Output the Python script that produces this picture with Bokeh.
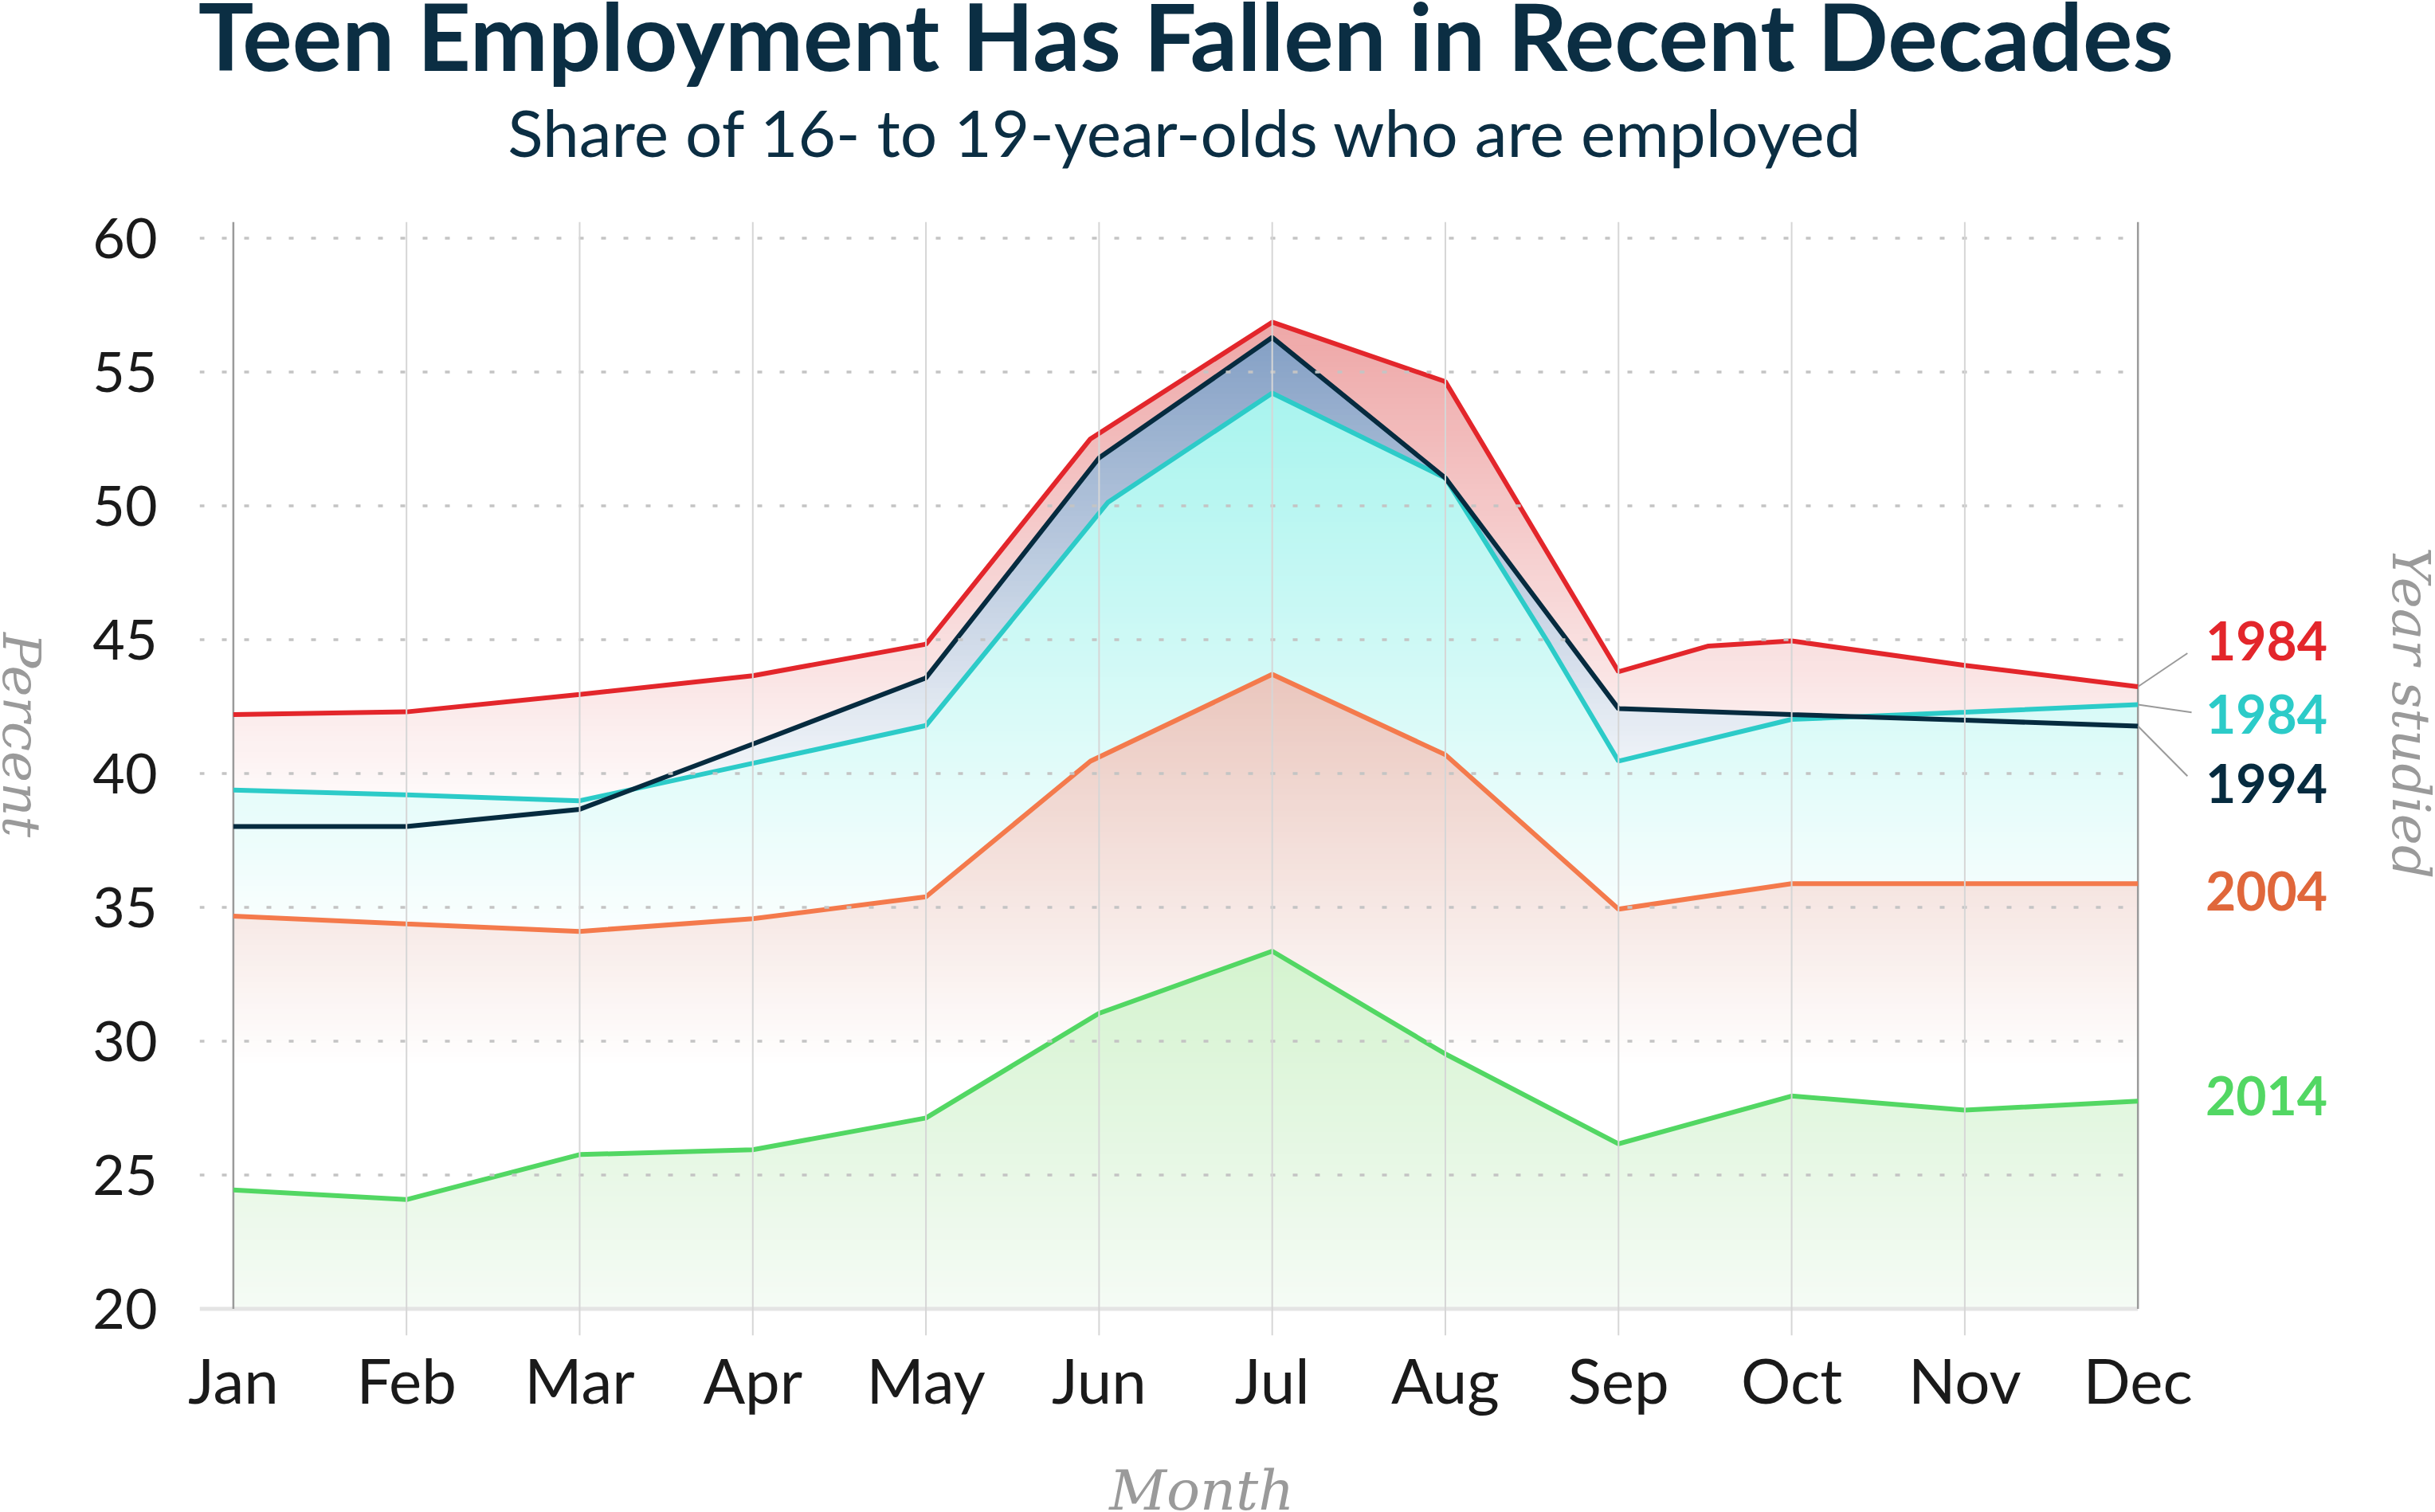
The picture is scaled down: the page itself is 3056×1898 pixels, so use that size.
import numpy as np
from bokeh.plotting import figure
from bokeh.layouts import row, column
from bokeh.models import Range1d, FixedTicker, Label, ColumnDataSource
from bokeh.embed import file_html
from bokeh.resources import INLINE

# ---------------- data ----------------
months = ["Jan", "Feb", "Mar", "Apr", "May", "Jun", "Jul", "Aug", "Sep", "Oct", "Nov", "Dec"]
y_ticks = [20, 25, 30, 35, 40, 45, 50, 55, 60]

# month position (0 = Jan) and share employed (%)
x_1984_red = [0, 1, 2, 3, 4, 4.95, 6, 7, 8, 8.52, 9, 10, 11]
y_1984_red = [42.2, 42.3, 42.95, 43.65, 44.83, 52.5, 56.86, 54.64, 43.8, 44.76, 44.95, 44.04, 43.24]

x_1994 = [0, 1, 2, 3, 4, 5, 6, 7, 8, 9, 10, 11]
y_1994 = [38.02, 38.02, 38.66, 41.1, 43.57, 51.79, 56.29, 51.04, 42.42, 42.2, 41.99, 41.77]

x_1984_cyan = [0, 1, 2, 3, 4, 5.05, 6, 7, 7.6, 8, 9, 10, 11]
y_1984_cyan = [39.38, 39.2, 38.98, 40.38, 41.79, 50.12, 54.21, 51.04, 44.82, 40.46, 42.02, 42.29, 42.57]

x_2004 = [0, 1, 2, 3, 4, 4.95, 6, 7, 8, 9, 10, 11]
y_2004 = [34.67, 34.38, 34.1, 34.57, 35.39, 40.46, 43.7, 40.7, 34.93, 35.88, 35.88, 35.88]

x_2014 = [0, 1, 2, 3, 4, 5, 6, 7, 8, 9, 10, 11]
y_2014 = [24.44, 24.08, 25.76, 25.94, 27.13, 31.04, 33.36, 29.52, 26.16, 27.95, 27.42, 27.76]

label_txt = ["1984", "1984", "1994", "2004", "2014"]

# ---------------- styles ----------------
C_RED, C_NAVY, C_CYAN, C_ORANGE, C_GREEN = "#e3262b", "#062b3f", "#2ccbc8", "#f47a4c", "#52d763"
LABEL_COLORS = ["#e3262b", "#2ccbc8", "#062b3f", "#e0673b", "#52d763"]
TITLE_COLOR = "#0b2e43"
GRAY_TXT = "#9a9a9a"
LW = 6

TOTAL_W, TOTAL_H = 3056, 1896
W_SIDE = 100                   # narrow strip on the left for the y title
H_BOTTOM = 106                 # strip at the bottom for the x title
W_MAIN = TOTAL_W - W_SIDE
H_MAIN = TOTAL_H - H_BOTTOM

X0, X1 = -0.195, 11.0          # plotted area (Jan..Dec with a little lead-in)
Y0, Y1 = 19.0, 60.6
BASE = 20.0
XR = (X0, 12.718)              # frame extends right to hold the labels
YR = (Y0, 68.881)              # frame extends up to hold the titles

p = figure(width=W_MAIN, height=H_MAIN, output_backend="svg", toolbar_location=None, title=None,
           x_range=Range1d(*XR), y_range=Range1d(*YR),
           min_border_left=250 - W_SIDE, min_border_right=0, min_border_top=0,
           min_border_bottom=H_MAIN - 1676)
p.outline_line_color = None
p.background_fill_color = "white"
p.border_fill_color = "white"
p.xgrid.visible = False
p.ygrid.visible = False


def hex2rgb(h):
    h = h.lstrip("#")
    return np.array([int(h[i:i + 2], 16) for i in (0, 2, 4)], float)


def rgb2hex(c):
    c = np.clip(np.round(c), 0, 255).astype(int)
    return "#%02x%02x%02x" % tuple(c)


def gradient_area(xs, ys, top_col, bot_col, y_bot, step=0.2, eps=0.06):
    """Emulate a vertical linear gradient fill under a polyline using horizontal bands."""
    xs = np.asarray(xs, float)
    ys = np.asarray(ys, float)
    ymax = ys.max()
    y_top = ymax
    lv = [BASE]
    if y_bot > BASE:
        lv.append(y_bot)
    k = lv[-1]
    while k + step < ymax:
        k += step
        lv.append(k)
    lv.append(ymax + 0.05)
    cut_levels = lv + [l - eps for l in lv[1:]]
    dense = list(xs)
    for i in range(len(xs) - 1):
        xa, xb, ya, yb = xs[i], xs[i + 1], ys[i], ys[i + 1]
        for L in cut_levels:
            if (ya - L) * (yb - L) < 0:
                dense.append(xa + (L - ya) / (yb - ya) * (xb - xa))
    xd = np.unique(np.array(dense))
    fd = np.interp(xd, xs, ys)
    tc, bc = hex2rgb(top_col), hex2rgb(bot_col)
    pxs, pys, cols = [], [], []
    for i in range(len(lv) - 2, -1, -1):
        lo, hi = lv[i], lv[i + 1]
        lo_e = lo - eps if i > 0 else lo
        if fd.max() <= lo_e:
            continue
        top = np.clip(fd, lo_e, hi)
        pxs.append(np.concatenate([xd, xd[::-1]]).tolist())
        pys.append(np.concatenate([top, np.full(len(xd), lo_e)]).tolist())
        if i == 0 and y_bot > BASE:
            col = bc
        else:
            m = 0.5 * (lo + hi)
            t = np.clip((y_top - m) / (y_top - y_bot), 0, 1)
            col = tc + (bc - tc) * t
        cols.append(rgb2hex(col))
    src = ColumnDataSource(dict(xs=pxs, ys=pys, c=cols))
    p.patches("xs", "ys", source=src, fill_color="c", line_color=None)


# areas (bottom layer first)
gradient_area(x_1984_red, y_1984_red, "#eea7a7", "#ffffff", 38.0)
gradient_area(x_1994, y_1994, "#84a0c5", "#ffffff", 38.0)
gradient_area(x_1984_cyan, y_1984_cyan, "#a8f4ee", "#ffffff", 33.0)
gradient_area(x_2004, y_2004, "#eac6bd", "#ffffff", 29.0)
gradient_area(x_2014, y_2014, "#d4f3cf", "#f5fbf5", BASE)

# baseline + axis edge lines
p.segment(x0=[X0], y0=[BASE], x1=[X1], y1=[BASE], line_color="#e4e4e4", line_width=5)
p.segment(x0=[0, len(months) - 1], y0=[BASE, BASE], x1=[0, len(months) - 1], y1=[Y1, Y1],
          line_color="#9a9a9a", line_width=2.5)

# series lines
p.line(x_1984_red, y_1984_red, line_color=C_RED, line_width=LW)
p.line(x_1984_cyan, y_1984_cyan, line_color=C_CYAN, line_width=LW)
p.line(x_1994, y_1994, line_color=C_NAVY, line_width=LW)
p.line(x_2004, y_2004, line_color=C_ORANGE, line_width=LW)
p.line(x_2014, y_2014, line_color=C_GREEN, line_width=LW)

# grid lines (drawn over the series, as in the original)
h_levels = [t for t in y_ticks if t > BASE]
p.segment(x0=[X0] * len(h_levels), y0=h_levels, x1=[X1] * len(h_levels), y1=h_levels,
          line_color="#c4c4c4", line_width=3.5, line_dash="6 22")
v_pos = list(range(1, len(months) - 1))
p.segment(x0=v_pos, y0=[Y0] * len(v_pos), x1=v_pos, y1=[Y1] * len(v_pos),
          line_color="#d6d6d6", line_width=2)

# leader lines to the series labels
end_vals = [y_1984_red[-1], y_1984_cyan[-1], y_1994[-1]]
lead_end = [(11.286, 44.49), (11.31, 42.28), (11.286, 39.9)]
p.segment(x0=[X1] * 3, y0=end_vals, x1=[e[0] for e in lead_end], y1=[e[1] for e in lead_end],
          line_color="#9a9a9a", line_width=2)

# series labels
label_y = [44.95, 42.21, 39.63, 35.61, 27.96]
for t, yy, c in zip(label_txt, label_y, LABEL_COLORS):
    p.add_layout(Label(x=11.39, y=yy, text=t, text_font="Lato", text_font_style="bold",
                       text_font_size="66px", text_color=c, text_baseline="alphabetic",
                       text_align="left"))

# axes
p.xaxis.ticker = FixedTicker(ticks=list(range(len(months))))
p.xaxis.major_label_overrides = {i: m for i, m in enumerate(months)}
p.yaxis.ticker = FixedTicker(ticks=y_ticks)
for ax in (p.xaxis, p.yaxis):
    ax.axis_line_color = None
    ax.major_tick_line_color = None
    ax.minor_tick_line_color = None
    ax.major_tick_out = 0
    ax.major_tick_in = 0
    ax.major_label_text_font = "Lato"
    ax.major_label_text_color = "#1a1a1a"
p.xaxis.major_label_text_font_size = "78px"
p.yaxis.major_label_text_font_size = "70px"
p.xaxis.major_label_standoff = 8
p.yaxis.major_label_standoff = 53

# right side title
p.add_layout(Label(x=12.575, y=42.26, text="Year studied", text_font="DejaVu Serif",
                   text_font_style="italic", text_font_size="66px", text_color=GRAY_TXT,
                   text_align="center", text_baseline="middle", angle=-np.pi / 2))

# title & subtitle
p.add_layout(Label(x=5.5, y=67.59, text="Teen Employment Has Fallen in Recent Decades",
                   text_font="Lato", text_font_style="bold", text_font_size="117px",
                   text_color=TITLE_COLOR, text_align="center", text_baseline="alphabetic"))
p.add_layout(Label(x=5.5, y=63.99, text="Share of 16- to 19-year-olds who are employed",
                   text_font="Lato", text_font_size="82px",
                   text_color=TITLE_COLOR, text_align="center", text_baseline="alphabetic"))

# left strip holding the y-axis title (reads top to bottom); coordinates in page pixels
side = figure(width=W_SIDE, height=TOTAL_H, output_backend="svg", toolbar_location=None, title=None,
              x_range=Range1d(0, W_SIDE), y_range=Range1d(TOTAL_H, 0),
              x_axis_type=None, y_axis_type=None, min_border=0)
side.outline_line_color = None
side.background_fill_color = "white"
side.border_fill_color = "white"
side.grid.visible = False
side.add_layout(Label(x=26, y=922, text="Percent", text_font="DejaVu Serif",
                      text_font_style="italic", text_font_size="66px", text_color=GRAY_TXT,
                      text_align="center", text_baseline="middle", angle=-np.pi / 2))

# bottom strip holding the x-axis title
bottom = figure(width=W_MAIN, height=H_BOTTOM, output_backend="svg", toolbar_location=None,
                title=None, x_range=Range1d(W_SIDE, TOTAL_W), y_range=Range1d(TOTAL_H, H_MAIN),
                x_axis_type=None, y_axis_type=None, min_border=0)
bottom.outline_line_color = None
bottom.background_fill_color = "white"
bottom.border_fill_color = "white"
bottom.grid.visible = False
bottom.add_layout(Label(x=1425, y=1870, text="Month", text_font="DejaVu Serif",
                        text_font_style="italic", text_font_size="70px", text_color=GRAY_TXT,
                        text_align="center", text_baseline="middle"))

layout = row(side, column(p, bottom, spacing=0), spacing=0)
open("out.html", "w").write(file_html(layout, INLINE))
